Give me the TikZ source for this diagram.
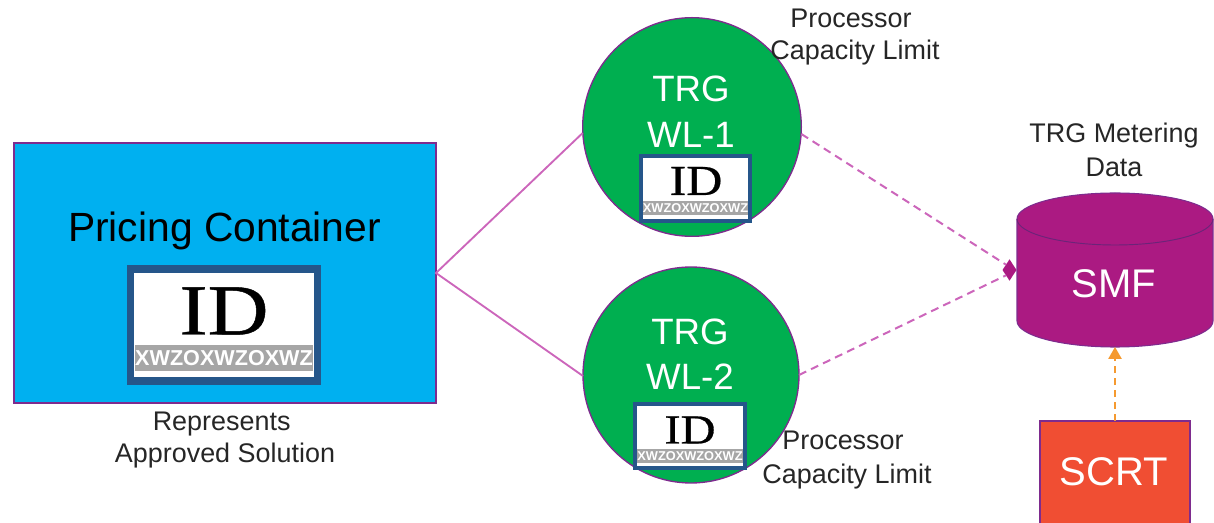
\documentclass[tikz,border=0pt]{standalone}
\usepackage{fontspec}
\setmainfont{Liberation Sans}
\newfontfamily\serifid[FakeBold=0.6]{Liberation Serif}
\usetikzlibrary{shapes.geometric,arrows.meta}
\definecolor{cblue}{HTML}{00B0F0}
\definecolor{cgreen}{HTML}{00AF50}
\definecolor{cpurple}{HTML}{AB1A82}
\definecolor{cred}{HTML}{F04E33}
\definecolor{cbadge}{HTML}{25568A}
\definecolor{cedge}{HTML}{7E2B8E}
\definecolor{cline}{HTML}{CC66BB}
\definecolor{corange}{HTML}{F59A30}
\definecolor{cband}{HTML}{A6A6A6}
\newcommand{\fs}[1]{\fontsize{#1}{#1}\selectfont}
\tikzset{
  shapebox/.style={draw=cedge,line width=1pt,inner sep=0pt,outer sep=0pt,text=white},
  note/.style={align=center,inner sep=0pt,text=black!85,font=\fs{20.2}},
  conn/.style={draw=cline,line width=1.4pt},
  dconn/.style={draw=cline,line width=1.5pt,dash pattern=on 6pt off 4pt},
  badge/.style={draw=cbadge,fill=white,inner sep=0pt,outer sep=0pt},
  band/.style={fill=cband,inner sep=0pt,outer sep=0pt,text=white,font=\bfseries},
}
\begin{document}
\begin{tikzpicture}[x=0.75pt,y=-0.75pt]
\useasboundingbox (0,0) rectangle (1214,523);
% pricing container
\node[shapebox,fill=cblue,minimum width=316.5pt,minimum height=195pt] (pc) at (225,273) {};
\node[inner sep=0pt,text=black,font=\fs{30.6}] (pct) at (224.5,231) {Pricing Container};
\node[badge,line width=5.5pt,minimum width=140pt,minimum height=84pt] (b0) at (224,325) {};
\node[band,minimum width=134pt,minimum height=19pt,font=\bfseries\fs{16.2}] (b0t) at (224,358) {XWZOXWZOXWZ};
\node[inner sep=0pt,text=black,xscale=1.17,font=\serifid\fs{54}] (b0i) at (224,311) {ID};
\node[note] (rep) at (225,440) {Represents\hspace*{5pt}\\[4pt]Approved Solution};
% WL-1
\node[shapebox,circle,fill=cgreen,minimum size=164pt] (w1) at (692,127) {};
\node[inner sep=0pt,text=white,align=center,font=\fs{27.5}] (w1t) at (691,112) {TRG\\[7pt]WL-1};
\node[badge,line width=3pt,minimum width=82pt,minimum height=49pt] (b1) at (695.5,188.5) {};
\node[band,minimum width=79pt,minimum height=10.5pt,font=\bfseries\fs{9.6}] (b1t) at (695.5,208) {XWZOXWZOXWZ};
\node[inner sep=0pt,text=black,xscale=1.17,font=\serifid\fs{32}] (b1i) at (696,181) {ID};
\node[note] (pl1) at (855,37) {Processor\hspace*{6pt}\\[4pt]Capacity Limit};
% WL-2
\node[shapebox,circle,fill=cgreen,minimum size=162pt] (w2) at (691,375) {};
\node[inner sep=0pt,text=white,align=center,font=\fs{27.5}] (w2t) at (690,354) {TRG\\[6pt]WL-2};
\node[badge,line width=3pt,minimum width=83pt,minimum height=48pt] (b2) at (690,436.5) {};
\node[band,minimum width=80pt,minimum height=10pt,font=\bfseries\fs{9.6}] (b2t) at (690,456) {XWZOXWZOXWZ};
\node[inner sep=0pt,text=black,xscale=1.17,font=\serifid\fs{31}] (b2i) at (690,430) {ID};
\node[note] (pl2) at (847,460) {Processor\hspace*{6pt}\\[5pt]Capacity Limit};
% SMF
\coordinate (smfw) at (1017,219);
\coordinate (smfs) at (1115,347);
\fill[cpurple] (smfw) arc[start angle=180,end angle=0,x radius=98,y radius=-26] -- (1213,321)
  arc[start angle=0,end angle=-180,x radius=98,y radius=-26] -- cycle;
\draw[cedge,line width=0.8pt] (smfw) arc[start angle=180,end angle=0,x radius=98,y radius=-26] -- (1213,321)
  arc[start angle=0,end angle=-180,x radius=98,y radius=-26] -- cycle;
\draw[cedge!85!black,line width=0.7pt] (smfw) arc[start angle=180,end angle=360,x radius=98,y radius=-26];
\node[inner sep=0pt,text=white,font=\fs{30}] (smft) at (1114,284) {SMF};
\node[note] (tm) at (1114,150) {TRG Metering\\[5pt]Data};
\node[diamond,fill=cpurple,inner sep=0pt,outer sep=0pt,minimum width=10.5pt,minimum height=16pt,aspect=0.65] (dia) at (1009.5,270) {};
% SCRT
\node[shapebox,fill=cred,minimum width=112.5pt,minimum height=80pt,font=\fs{30}] (scrt) at (1115,474.5) {};
\node[inner sep=0pt,text=white,font=\fs{30}] (scrtt) at (1114,472) {SCRT};
% connectors
\coordinate (j) at (pc.east);
\draw[conn] (j) -- (w1.west |- 0,133) -- (j) -- (w2.west |- 0,376);
\draw[dconn] (w1.east |- 0,134) -- (dia.north west);
\draw[dconn] (w2.east |- 0,375) -- (dia.south west);
\draw[draw=corange,line width=1.3pt,dash pattern=on 5pt off 4pt,-{Triangle[length=9pt,width=10pt,fill=corange]}] (scrt.north) -- (smfs);
\end{tikzpicture}
\end{document}
